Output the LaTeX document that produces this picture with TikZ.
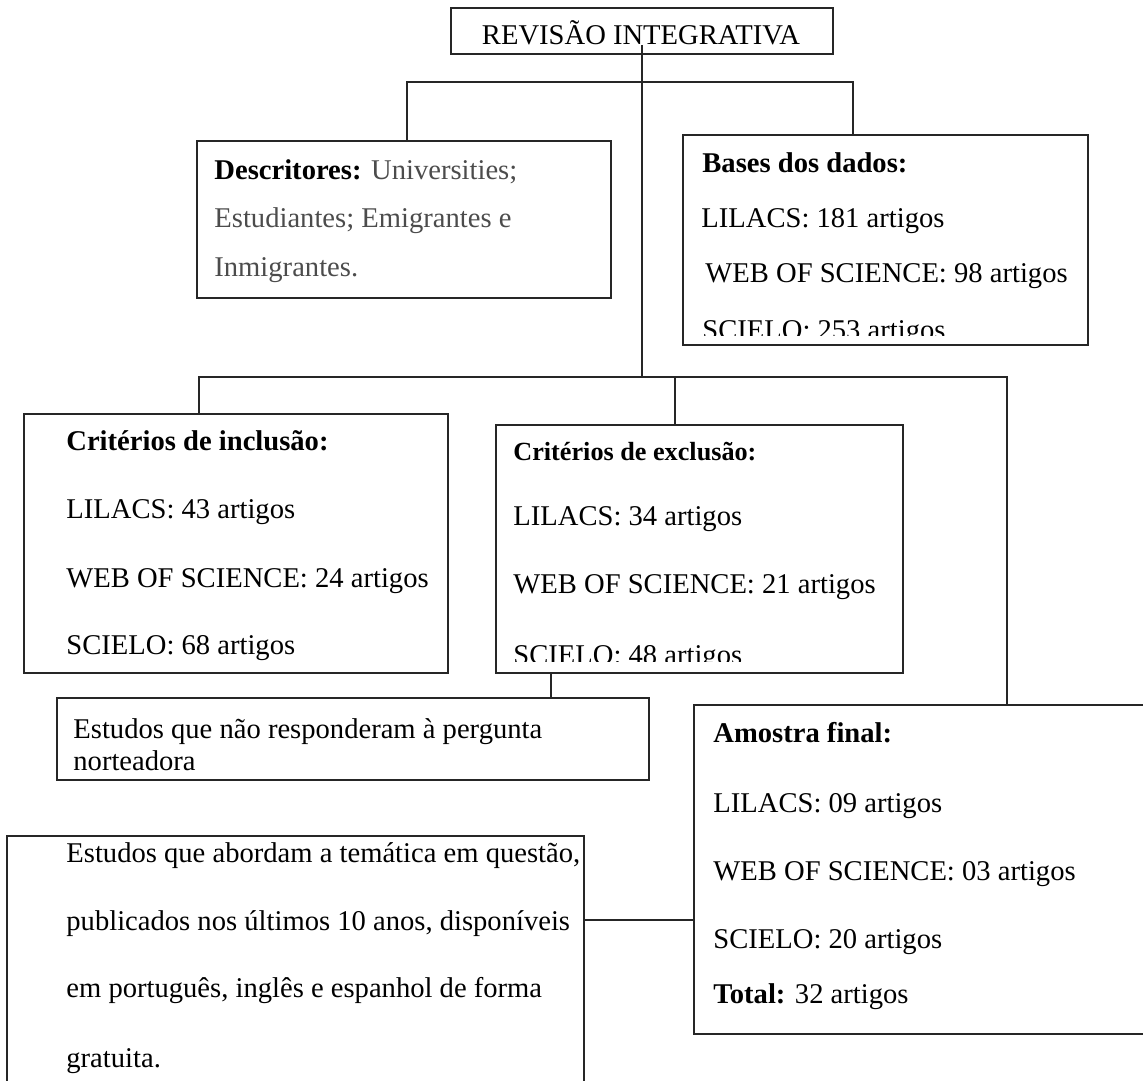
\documentclass[tikz,border=0pt]{standalone}
\usepackage{fontspec}
\setmainfont{Liberation Serif}
\usetikzlibrary{fit,calc}
\begin{document}
\begin{tikzpicture}[x=0.5pt,y=-0.5pt]
\tikzset{
  box/.style={draw=black!85, line width=1pt, inner sep=0pt, rectangle},
  txt/.style={anchor=base west, inner sep=0pt, font=\fontsize{14.3}{17}\selectfont},
  conn/.style={draw=black!85, line width=1pt},
  grey/.style={text=black!70}
}
\path[use as bounding box] (0,0) rectangle (1143,1080);
\clip (0,0) rectangle (1143,1080);

% boxes
\node[box, fit={(451,8) (833,54)}] (top) {};
\node[box, fit={(197,141) (611,298)}] (desc) {};
\node[box, fit={(683,135) (1088,345)}] (bases) {};
\node[box, fit={(24,414) (448,673)}] (incl) {};
\node[box, fit={(496,425) (903,673)}] (excl) {};
\node[box, fit={(57,698) (649,780)}] (nort) {};
\node[box, fit={(7,836) (584,1110)}] (crit) {};
\node[box, fit={(694,705) (1160,1034)}] (amostra) {};

% texts
\node[txt, anchor=base] (ttop) at (641,45) {REVISÃO INTEGRATIVA};

\node[txt] (d1) at (214,180) {\textbf{Descritores:} \textcolor{black!70}{Universities;}};
\node[txt, grey] (d2) at (214,228) {Estudiantes; Emigrantes e};
\node[txt, grey] (d3) at (214,277) {Inmigrantes.};

\begin{scope}
\clip (684,136) rectangle (1087,335);
\node[txt] (b1) at (702,173) {\textbf{Bases dos dados:}};
\node[txt] (b2) at (701,228) {LILACS: 181 artigos};
\node[txt] (b3) at (705,283) {WEB OF SCIENCE: 98 artigos};
\node[txt] (b4) at (702,339) {SCIELO: 253 artigos};
\end{scope}

\node[txt] (i1) at (66,450) {\textbf{Critérios de inclusão:}};
\node[txt] (i2) at (66,518) {LILACS: 43 artigos};
\node[txt] (i3) at (66,587) {WEB OF SCIENCE: 24 artigos};
\node[txt] (i4) at (66,654) {SCIELO: 68 artigos};

\begin{scope}
\clip (497,426) rectangle (902,661);
\node[txt, font=\fontsize{13.1}{16}\selectfont] (e1) at (513,460) {\textbf{Critérios de exclusão:}};
\node[txt] (e2) at (513,525) {LILACS: 34 artigos};
\node[txt] (e3) at (513,593) {WEB OF SCIENCE: 21 artigos};
\node[txt] (e4) at (513,664) {SCIELO: 48 artigos};
\end{scope}

\node[txt] (n1) at (73,738) {Estudos que não responderam à pergunta};
\node[txt] (n2) at (73,770) {norteadora};

\node[txt] (c1) at (66,862) {Estudos que abordam a temática em questão,};
\node[txt] (c2) at (66,930) {publicados nos últimos 10 anos, disponíveis};
\node[txt] (c3) at (66,997) {em português, inglês e espanhol de forma};
\node[txt] (c4) at (66,1067) {gratuita.};

\node[txt] (a1) at (713,742) {\textbf{Amostra final:}};
\node[txt] (a2) at (713,812) {LILACS: 09 artigos};
\node[txt] (a3) at (713,880) {WEB OF SCIENCE: 03 artigos};
\node[txt] (a4) at (713,948) {SCIELO: 20 artigos};
\node[txt] (a5) at (713,1003) {\textbf{Total:} 32 artigos};

% junction coordinates
\coordinate (t0) at (642,45);
\coordinate (jd) at (407,82);
\coordinate (jb) at (853,82);
\coordinate (mi) at (199,377);
\coordinate (me) at (675,377);
\coordinate (ma) at (1007,377);
\coordinate (xn) at (551,0);
\coordinate (ca) at (0,920);

% connectors
\draw[conn] (t0) -- (t0 |- mi);
\draw[conn] (jd |- desc.north) -- (jd) -- (jb) -- (jb |- bases.north);
\draw[conn] (mi |- incl.north) -- (mi) -- (ma) -- (ma |- amostra.north);
\draw[conn] (me) -- (me |- excl.north);
\draw[conn] (xn |- excl.south) -- (xn |- nort.north);
\draw[conn] (crit.east |- ca) -- (amostra.west |- ca);
\end{tikzpicture}
\end{document}
